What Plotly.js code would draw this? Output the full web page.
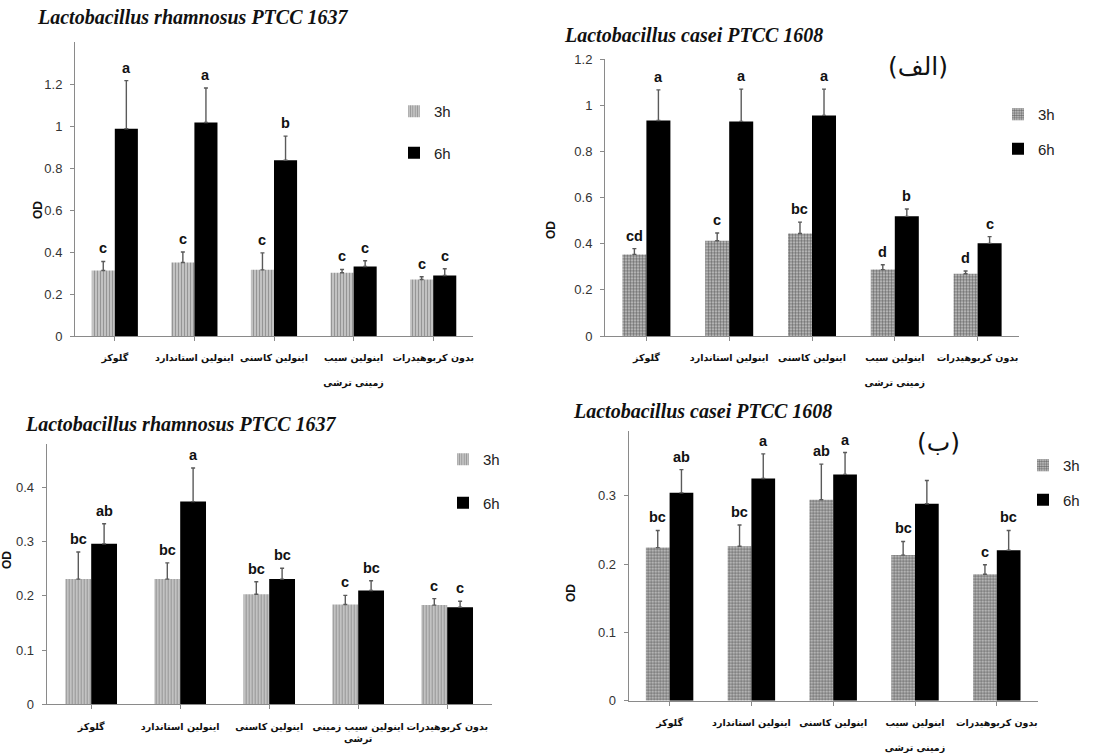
<!DOCTYPE html>
<html><head><meta charset="utf-8">
<script src="https://cdn.plot.ly/plotly-3.0.1.min.js"></script>
<style>html,body{margin:0;padding:0;background:#fff}#chart{width:1093px;height:753px}</style>
</head><body><div id="chart"></div>
<script>
// ---------- data ----------
const categories = ["گلوکز", "اینولین استاندارد", "اینولین کاسنی", "اینولین سیب زمینی ترشی", "بدون کربوهیدرات"];
const tickLabelsTop = ["گلوکز", "اینولین استاندارد", "اینولین کاسنی", "اینولین سیب<br> <br>زمینی ترشی", "بدون کربوهیدرات"];
const tickLabelsRhBottom = ["گلوکز", "اینولین استاندارد", "اینولین کاسنی", "اینولین سیب زمینی<br>ترشی", "بدون کربوهیدرات"];
const seriesNames = ["3h", "6h"];

const titleRh = "Lactobacillus rhamnosus PTCC 1637";
const titleCa = "Lactobacillus casei PTCC 1608";

// Panel A, L. rhamnosus
const rhA_3h = [0.312, 0.350, 0.315, 0.301, 0.269];
const rhA_3h_err = [0.043, 0.050, 0.081, 0.016, 0.013];
const rhA_6h = [0.987, 1.017, 0.837, 0.331, 0.288];
const rhA_6h_err = [0.229, 0.164, 0.115, 0.027, 0.032];
const rhA_3h_letters = ["c", "c", "c", "c", "c"];
const rhA_6h_letters = ["a", "a", "b", "c", "c"];

// Panel A, L. casei
const caA_3h = [0.354, 0.413, 0.445, 0.288, 0.270];
const caA_3h_err = [0.025, 0.034, 0.049, 0.021, 0.012];
const caA_6h = [0.935, 0.931, 0.957, 0.519, 0.402];
const caA_6h_err = [0.133, 0.140, 0.114, 0.032, 0.029];
const caA_3h_letters = ["cd", "c", "bc", "d", "d"];
const caA_6h_letters = ["a", "a", "a", "b", "c"];

// Panel B, L. rhamnosus
const rhB_3h = [0.231, 0.231, 0.203, 0.184, 0.183];
const rhB_3h_err = [0.050, 0.030, 0.023, 0.017, 0.012];
const rhB_6h = [0.296, 0.374, 0.231, 0.210, 0.179];
const rhB_6h_err = [0.037, 0.062, 0.020, 0.018, 0.011];
const rhB_3h_letters = ["bc", "bc", "bc", "c", "c"];
const rhB_6h_letters = ["ab", "a", "bc", "bc", "c"];

// Panel B, L. casei
const caB_3h = [0.224, 0.226, 0.294, 0.213, 0.185];
const caB_3h_err = [0.025, 0.031, 0.052, 0.020, 0.014];
const caB_6h = [0.304, 0.325, 0.331, 0.288, 0.220];
const caB_6h_err = [0.034, 0.036, 0.032, 0.034, 0.029];
const caB_3h_letters = ["bc", "bc", "ab", "bc", "c"];
const caB_6h_letters = ["ab", "a", "a", "", "bc"];

const panelMarkA = "(الف)";
const panelMarkB = "(ب)";
const yTitle = "OD";

// ---------- layout helpers ----------
const W = 1093, H = 753;
const fx = v => v / W;
const fy = v => 1 - v / H;
const BARGAP = 0.42;

const streak = {shape: "|", bgcolor: "#c2c2c2", fgcolor: "#959595", size: 3, solidity: 0.35};
const speckle = {shape: ".", bgcolor: "#cfcfcf", fgcolor: "#6e6e6e", size: 3, solidity: 0.55};

const panels = [
  {suf: "", x0: 75, x1: 473, yb: 336, ppu: 210, ymax: 1.398, dtick: 0.2, labels: tickLabelsTop,
   s3: rhA_3h, e3: rhA_3h_err, s6: rhA_6h, e6: rhA_6h_err, l3: rhA_3h_letters, l6: rhA_6h_letters,
   pat: streak, title: titleRh, tx: 35, ty: 17, odx: 38, ody: 210, legx: 394, legy: 95, lgap: 19},
  {suf: "2", x0: 605, x1: 1019, yb: 336, ppu: 230.5, ymax: 1.2, dtick: 0.2, labels: tickLabelsTop,
   s3: caA_3h, e3: caA_3h_err, s6: caA_6h, e6: caA_6h_err, l3: caA_3h_letters, l6: caA_6h_letters,
   pat: speckle, title: titleCa, tx: 562, ty: 35, odx: 551, ody: 230, legx: 998, legy: 98, lgap: 12},
  {suf: "3", x0: 46.7, x1: 491.7, yb: 704.3, ppu: 542, ymax: 0.48, dtick: 0.1, labels: tickLabelsRhBottom,
   s3: rhB_3h, e3: rhB_3h_err, s6: rhB_6h, e6: rhB_6h_err, l3: rhB_3h_letters, l6: rhB_6h_letters,
   pat: streak, title: titleRh, tx: 23, ty: 424, odx: 7, ody: 560, legx: 443, legy: 443, lgap: 21},
  {suf: "4", x0: 628.7, x1: 1037.7, yb: 700.8, ppu: 684, ymax: 0.395, dtick: 0.1, labels: tickLabelsTop,
   s3: caB_3h, e3: caB_3h_err, s6: caB_6h, e6: caB_6h_err, l3: caB_3h_letters, l6: caB_6h_letters,
   pat: speckle, title: titleCa, tx: 571, ty: 411, odx: 571, ody: 593, legx: 1023, legy: 449, lgap: 12}
];

const traces = [];
const annotations = [];
const layout = {
  width: W, height: H, margin: {l: 0, r: 0, t: 0, b: 0},
  paper_bgcolor: "#fff", plot_bgcolor: "rgba(0,0,0,0)",
  barmode: "group", bargap: BARGAP, bargroupgap: 0,
  font: {family: "Liberation Sans, Arial, sans-serif", color: "#222"},
  annotations: annotations
};

panels.forEach((p, k) => {
  const xa = "x" + p.suf, ya = "y" + p.suf;
  const legName = "legend" + p.suf;
  const zeros = p.s3.map(() => 0);
  const ytop = p.yb - p.ymax * p.ppu;
  const errStyle = {color: "#5a5a5a", thickness: 1.4, width: 2};
  traces.push({
    type: "bar", name: seriesNames[0], x: categories, y: p.s3, xaxis: xa, yaxis: ya,
    legend: legName, legendgroup: "g" + k + "a",
    marker: {color: p.pat.bgcolor, pattern: p.pat, line: {width: 0}},
    error_y: Object.assign({type: "data", symmetric: false, array: p.e3, arrayminus: zeros}, errStyle),
    hoverinfo: "y"
  });
  traces.push({
    type: "bar", name: seriesNames[1], x: categories, y: p.s6, xaxis: xa, yaxis: ya,
    legend: legName, legendgroup: "g" + k + "b",
    marker: {color: "#000", line: {width: 0}},
    error_y: Object.assign({type: "data", symmetric: false, array: p.e6, arrayminus: zeros}, errStyle),
    hoverinfo: "y"
  });
  layout["xaxis" + p.suf] = {
    domain: [fx(p.x0), fx(p.x1)], anchor: ya, type: "category",
    tickvals: categories, ticktext: p.labels, tickangle: 0,
    ticks: "outside", ticklen: 4, tickcolor: "#8a8a8a",
    showline: true, linecolor: "#8a8a8a", linewidth: 1,
    showgrid: false, zeroline: false, fixedrange: true,
    tickfont: {family: "DejaVu Sans", size: 9.5, color: "#111", weight: "bold"},
    ticklabelstandoff: 9
  };
  layout["yaxis" + p.suf] = {
    domain: [fy(p.yb), fy(ytop)], anchor: xa,
    range: [0, p.ymax], tick0: 0, dtick: p.dtick,
    ticks: "outside", ticklen: 4, tickcolor: "#8a8a8a",
    showline: true, linecolor: "#8a8a8a", linewidth: 1,
    showgrid: false, zeroline: false, fixedrange: true,
    tickfont: {family: "Liberation Sans", size: 13, color: "#333"},
    ticklabelstandoff: 5
  };
  layout[legName] = {
    x: fx(p.legx), y: fy(p.legy), xanchor: "left", yanchor: "top",
    bgcolor: "rgba(0,0,0,0)", borderwidth: 0,
    traceorder: "grouped", tracegroupgap: p.lgap,
    font: {family: "Liberation Sans", size: 15, color: "#222"}
  };
  // significance letters above error bars
  const catW = (p.x1 - p.x0) / categories.length;
  const barW = catW * (1 - BARGAP) / 2;
  [[p.s3, p.e3, p.l3, -1], [p.s6, p.e6, p.l6, 1]].forEach(([vals, errs, letters, side]) => {
    vals.forEach((v, i) => {
      if (!letters[i]) return;
      annotations.push({
        xref: xa, yref: ya, x: categories[i], y: v + errs[i],
        xshift: side * barW / 2, yshift: 3, yanchor: "bottom", xanchor: "center",
        text: "<b>" + letters[i] + "</b>", showarrow: false,
        font: {family: "Liberation Sans", size: 14.5, color: "#111"}
      });
    });
  });
  // panel title
  annotations.push({
    xref: "paper", yref: "paper", x: fx(p.tx), y: fy(p.ty), xanchor: "left", yanchor: "middle",
    text: "<b><i>" + p.title + "</i></b>", showarrow: false,
    font: {family: "Liberation Serif, Times New Roman, serif", size: 20, color: "#111"}
  });
  // y axis title
  annotations.push({
    xref: "paper", yref: "paper", x: fx(p.odx), y: fy(p.ody), xanchor: "center", yanchor: "middle",
    text: "<b>" + yTitle + "</b>", textangle: -90, showarrow: false,
    font: {family: "Liberation Sans", size: 12, color: "#111"}
  });
});

annotations.push({xref: "paper", yref: "paper", x: fx(918), y: fy(66), xanchor: "center", yanchor: "middle",
  text: panelMarkA, showarrow: false, font: {family: "DejaVu Sans", size: 25, color: "#111"}});
annotations.push({xref: "paper", yref: "paper", x: fx(938), y: fy(442), xanchor: "center", yanchor: "middle",
  text: panelMarkB, showarrow: false, font: {family: "DejaVu Sans", size: 25, color: "#111"}});

Plotly.newPlot("chart", traces, layout, {displayModeBar: false, staticPlot: true});
</script>
</body></html>
